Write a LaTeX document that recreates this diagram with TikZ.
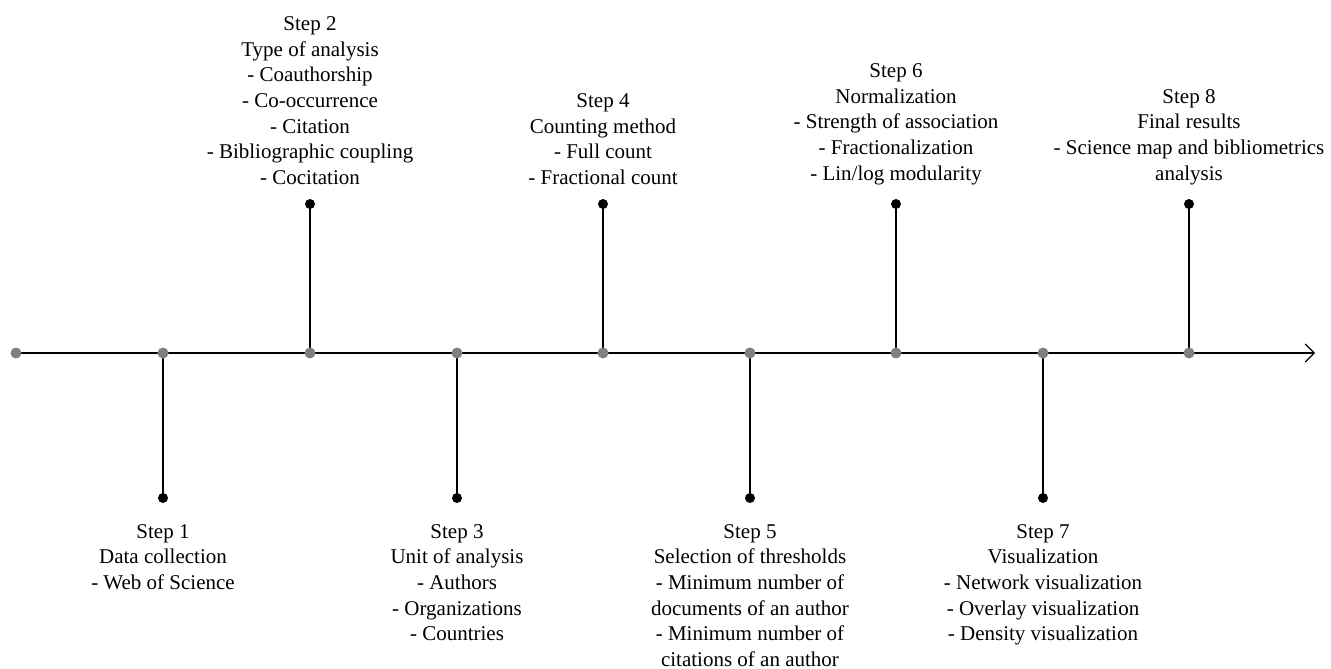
\documentclass[tikz,border=0pt]{standalone}
\usepackage{fontspec}
\setmainfont{Liberation Serif}
\usetikzlibrary{arrows.meta}
\begin{document}
\begin{tikzpicture}[x=1pt,y=-1pt,
  axisdot/.style={circle,fill=black!50,inner sep=0pt,minimum size=11pt},
  enddot/.style={circle,fill=black,inner sep=0pt,minimum size=10pt},
  stem/.style={line width=1.2pt,black},
  axisline/.style={line width=1.2pt,black,-{Straight Barb[length=9pt,width=18pt,line width=1.2pt]}},
  steptext/.style={align=center,font=\fontsize{21}{25.7}\selectfont,inner sep=0pt}]
\useasboundingbox (0,0) rectangle (1331,669);
% axis
\coordinate (a0) at (16,353);
\coordinate (a1) at (163,353);
\coordinate (a2) at (310,353);
\coordinate (a3) at (457,353);
\coordinate (a4) at (603,353);
\coordinate (a5) at (750,353);
\coordinate (a6) at (896,353);
\coordinate (a7) at (1043,353);
\coordinate (a8) at (1189,353);
\coordinate (aend) at (1315,353);
\draw[axisline] (a0) -- (aend);
% end dots
\node[enddot] (e1) at (163,498) {};
\node[enddot] (e2) at (310,204) {};
\node[enddot] (e3) at (457,498) {};
\node[enddot] (e4) at (603,204) {};
\node[enddot] (e5) at (750,498) {};
\node[enddot] (e6) at (896,204) {};
\node[enddot] (e7) at (1043,498) {};
\node[enddot] (e8) at (1189,204) {};
\foreach \i in {1,...,8} { \draw[stem] (a\i) -- (e\i.center); }
\foreach \i in {0,...,8} { \node[axisdot] (d\i) at (a\i) {}; }
% texts
\node[steptext,anchor=south] (t2) at (310,185) {Step 2\\Type of analysis\\- Coauthorship\\- Co-occurrence\\- Citation\\- Bibliographic coupling\\- Cocitation};
\node[steptext,anchor=south] (t4) at (603,185) {Step 4\\Counting method\\- Full count\\- Fractional count};
\node[steptext,anchor=south] (t6) at (896,185) {Step 6\\Normalization\\- Strength of association\\- Fractionalization\\- Lin/log modularity};
\node[steptext,anchor=south] (t8) at (1189,185) {Step 8\\Final results\\- Science map and bibliometrics\\analysis};
\node[steptext,anchor=north] (t1) at (163,524) {Step 1\\Data collection\\- Web of Science};
\node[steptext,anchor=north] (t3) at (457,524) {Step 3\\Unit of analysis\\- Authors\\- Organizations\\- Countries};
\node[steptext,anchor=north] (t5) at (750,524) {Step 5\\Selection of thresholds\\- Minimum number of\\documents of an author\\- Minimum number of\\citations of an author};
\node[steptext,anchor=north] (t7) at (1043,524) {Step 7\\Visualization\\- Network visualization\\- Overlay visualization\\- Density visualization};
\end{tikzpicture}
\end{document}
